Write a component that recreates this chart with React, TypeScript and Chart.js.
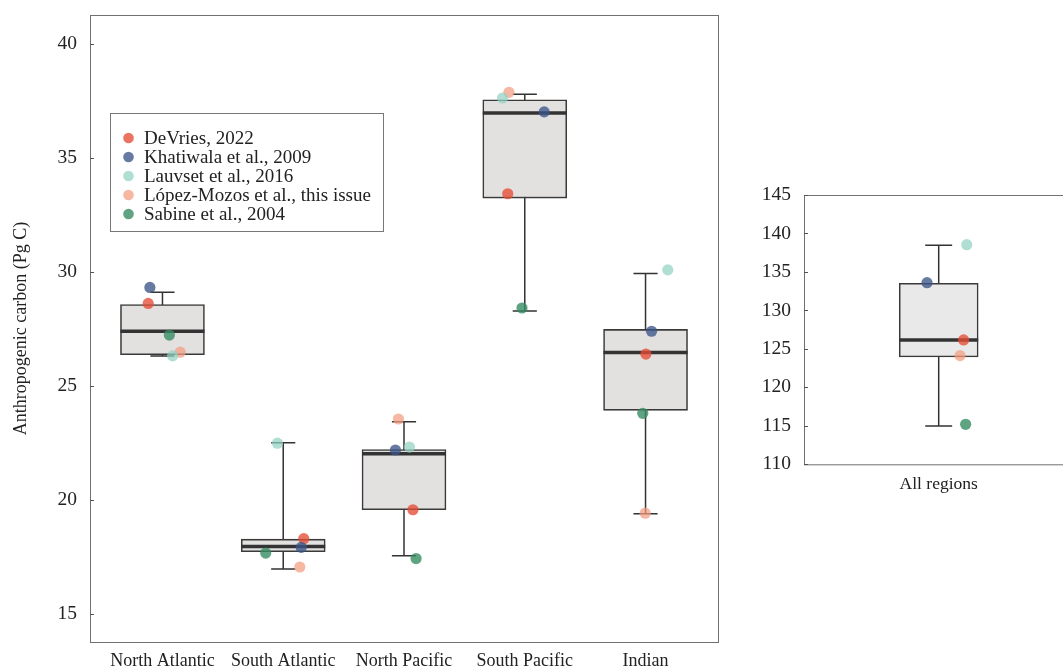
import React, { useEffect, useRef } from 'react';
import { Chart, registerables } from 'chart.js';

Chart.register(...registerables);

// ---------- data ----------
const regions = ['North Atlantic', 'South Atlantic', 'North Pacific', 'South Pacific', 'Indian'];
const regionYTicks = [15, 20, 25, 30, 35, 40];
const regionQ1 = [26.37, 17.73, 19.57, 33.24, 23.93];
const regionMedian = [27.4, 17.96, 22.03, 36.97, 26.47];
const regionQ3 = [28.57, 18.28, 22.21, 37.55, 27.48];
const regionWhiskerLow = [26.31, 16.97, 17.55, 28.29, 19.4];
const regionWhiskerHigh = [29.11, 22.51, 23.43, 37.79, 29.93];

const sources = [
  'DeVries, 2022',
  'Khatiwala et al., 2009',
  'Lauvset et al., 2016',
  'López-Mozos et al., this issue',
  'Sabine et al., 2004',
];
const sourceColors = [
  'rgba(230,75,53,0.78)',
  'rgba(60,84,136,0.78)',
  'rgba(145,209,194,0.72)',
  'rgba(243,155,127,0.72)',
  'rgba(55,140,100,0.8)',
];
const sourceOrder = [5, 4, 2, 3, 1];

// values per source, one per region
const devriesValues = [28.62, 18.3, 19.57, 33.43, 26.4];
const khatiwalaValues = [29.32, 17.92, 22.19, 37.02, 27.4];
const lauvsetValues = [26.32, 22.49, 22.32, 37.63, 30.09];
const lopezValues = [26.48, 17.06, 23.55, 37.88, 19.42];
const sabineValues = [27.23, 17.67, 17.43, 28.42, 23.8];
const regionValues = [devriesValues, khatiwalaValues, lauvsetValues, lopezValues, sabineValues];

// horizontal jitter (category units)
const devriesJitter = [-0.118, 0.17, 0.074, -0.141, 0.003];
const khatiwalaJitter = [-0.104, 0.149, -0.071, 0.161, 0.05];
const lauvsetJitter = [0.084, -0.048, 0.045, -0.184, 0.184];
const lopezJitter = [0.147, 0.137, -0.046, -0.131, -0.003];
const sabineJitter = [0.057, -0.145, 0.1, -0.023, -0.023];
const regionJitter = [devriesJitter, khatiwalaJitter, lauvsetJitter, lopezJitter, sabineJitter];

// all regions panel
const totalLabel = ['All regions'];
const totalYTicks = [110, 115, 120, 125, 130, 135, 140, 145];
const totalQ1 = [123.95];
const totalMedian = [126.16];
const totalQ3 = [133.52];
const totalWhiskerLow = [114.98];
const totalWhiskerHigh = [138.46];
const totalValues = [126.16, 133.6, 138.54, 124.12, 115.2]; // one per source
const totalJitter = [0.111, -0.052, 0.125, 0.095, 0.12];

// ---------- helpers ----------
const FONT = "'Liberation Serif', 'Times New Roman', Times, serif";
const TEXT = '#222222';

const boxExtras = {
  id: 'boxExtras',
  beforeDatasetsDraw(chart: any, _args: any, opts: any) {
    const { ctx } = chart;
    const xs = chart.scales.x;
    const ys = chart.scales.y;
    ctx.save();
    ctx.strokeStyle = '#333333';
    ctx.lineWidth = 1.5;
    opts.lo.forEach((lo: number, i: number) => {
      const cx = xs.getPixelForValue(i);
      const hw = (xs.getPixelForValue(i + opts.cap / 2) - xs.getPixelForValue(i - opts.cap / 2)) / 2;
      const yLo = ys.getPixelForValue(lo);
      const yHi = ys.getPixelForValue(opts.hi[i]);
      ctx.beginPath();
      ctx.moveTo(cx, yLo);
      ctx.lineTo(cx, yHi);
      ctx.moveTo(cx - hw, yLo);
      ctx.lineTo(cx + hw, yLo);
      ctx.moveTo(cx - hw, yHi);
      ctx.lineTo(cx + hw, yHi);
      ctx.stroke();
    });
    ctx.restore();
  },
  afterDatasetDraw(chart: any, args: any, opts: any) {
    if (args.meta.type !== 'bar') return;
    const { ctx } = chart;
    const ys = chart.scales.y;
    ctx.save();
    ctx.strokeStyle = '#333333';
    ctx.lineWidth = 3.5;
    args.meta.data.forEach((el: any, i: number) => {
      const y = ys.getPixelForValue(opts.median[i]);
      ctx.beginPath();
      ctx.moveTo(el.x - el.width / 2, y);
      ctx.lineTo(el.x + el.width / 2, y);
      ctx.stroke();
    });
    ctx.restore();
  },
  afterDraw(chart: any, _args: any, opts: any) {
    const { ctx, chartArea: a } = chart;
    const ys = chart.scales.y;
    ctx.save();
    ctx.strokeStyle = '#707070';
    ctx.lineWidth = 1;
    ctx.strokeRect(Math.round(a.left) + 0.5, Math.round(a.top) + 0.5, a.right - a.left, a.bottom - a.top);
    ctx.strokeStyle = '#555555';
    opts.yTicks.forEach((v: number) => {
      const y = Math.round(ys.getPixelForValue(v)) + 0.5;
      ctx.beginPath();
      ctx.moveTo(a.left, y);
      ctx.lineTo(a.left + 4, y);
      ctx.stroke();
    });
    if (opts.legend) {
      const x0 = a.left + 20;
      const y0 = a.top + 98;
      const w = 273;
      const h = 118;
      ctx.fillStyle = '#ffffff';
      ctx.fillRect(x0, y0, w, h);
      ctx.strokeStyle = '#777777';
      ctx.strokeRect(x0 + 0.5, y0 + 0.5, w, h);
      ctx.font = `19px ${FONT}`;
      ctx.textBaseline = 'middle';
      ctx.textAlign = 'left';
      chart.data.datasets.forEach((ds: any) => {
        if (ds.type !== 'scatter') return;
        const k = ds.sourceIndex;
        const ry = y0 + 25 + k * 19;
        ctx.fillStyle = ds.backgroundColor;
        ctx.beginPath();
        ctx.arc(x0 + 18.5, ry, 5.3, 0, Math.PI * 2);
        ctx.fill();
        ctx.fillStyle = TEXT;
        ctx.fillText(ds.label, x0 + 34, ry + 1);
      });
    }
    ctx.restore();
  },
};

function buildConfig(p: {
  labels: string[];
  q1: number[];
  median: number[];
  q3: number[];
  lo: number[];
  hi: number[];
  values: (k: number) => number[];
  jitter: (k: number) => number[];
  yMin: number;
  yMax: number;
  yTicks: number[];
  xMin: number;
  xMax: number;
  cap: number;
  barThickness: number;
  boxFill: string;
  legend: boolean;
  yTitle: string | null;
  yWidth: number;
  xHeight: number;
  padding: any;
  xFont: number;
  xPad: number;
}): any {
  const scatterSets = sources.map((name, k) => ({
    type: 'scatter',
    label: name,
    sourceIndex: k,
    order: sourceOrder[k],
    data: p.values(k).map((v, i) => ({ x: i + p.jitter(k)[i], y: v })),
    backgroundColor: sourceColors[k],
    borderWidth: 0,
    pointRadius: 5.6,
    pointHoverRadius: 5.6,
  }));
  return {
    type: 'bar',
    data: {
      datasets: [
        {
          type: 'bar',
          label: 'box',
          order: 10,
          data: p.q1.map((q, i) => ({ x: i, y: [q, p.q3[i]] })),
          backgroundColor: p.boxFill,
          borderColor: '#3a3a3a',
          borderWidth: 1.6,
          borderSkipped: false,
          barThickness: p.barThickness,
        },
        ...scatterSets,
      ],
    },
    options: {
      responsive: false,
      animation: false,
      events: [],
      layout: { padding: p.padding },
      plugins: {
        legend: { display: false },
        tooltip: { enabled: false },
        boxExtras: {
          q1: p.q1,
          median: p.median,
          q3: p.q3,
          lo: p.lo,
          hi: p.hi,
          cap: p.cap,
          yTicks: p.yTicks,
          legend: p.legend,
        },
      },
      scales: {
        x: {
          type: 'linear',
          offset: false,
          min: p.xMin,
          max: p.xMax,
          grid: { display: false, drawTicks: false },
          border: { display: false },
          afterBuildTicks: (s: any) => {
            s.ticks = p.labels.map((_, i) => ({ value: i }));
          },
          afterFit: (s: any) => {
            s.height = p.xHeight;
            s.paddingLeft = 0;
            s.paddingRight = 0;
          },
          ticks: {
            autoSkip: false,
            maxRotation: 0,
            padding: p.xPad,
            color: TEXT,
            font: { family: FONT, size: p.xFont },
            callback: (v: any) => p.labels[Math.round(v)] ?? '',
          },
        },
        y: {
          type: 'linear',
          min: p.yMin,
          max: p.yMax,
          grid: { display: false, drawTicks: false },
          border: { display: false },
          afterBuildTicks: (s: any) => {
            s.ticks = p.yTicks.map((v) => ({ value: v }));
          },
          afterFit: (s: any) => {
            s.width = p.yWidth;
            s.paddingTop = 0;
            s.paddingBottom = 0;
          },
          ticks: {
            padding: 13,
            color: TEXT,
            font: { family: FONT, size: 19.5 },
            callback: (v: any) => String(v),
          },
          title: p.yTitle
            ? {
                display: true,
                text: p.yTitle,
                color: TEXT,
                font: { family: FONT, size: 18 },
                padding: { top: 10, bottom: 0 },
              }
            : { display: false },
        },
      },
    },
    plugins: [boxExtras],
  };
}

export default function App() {
  const leftRef = useRef<HTMLCanvasElement>(null);
  const rightRef = useRef<HTMLCanvasElement>(null);

  useEffect(() => {
    const left = new Chart(
      leftRef.current as HTMLCanvasElement,
      buildConfig({
        labels: regions,
        q1: regionQ1,
        median: regionMedian,
        q3: regionQ3,
        lo: regionWhiskerLow,
        hi: regionWhiskerHigh,
        values: (k) => regionValues[k],
        jitter: (k) => regionJitter[k],
        yMin: 13.77,
        yMax: 41.27,
        yTicks: regionYTicks,
        xMin: -0.6,
        xMax: 4.6,
        cap: 0.2,
        barThickness: 84,
        boxFill: '#e2e1e0',
        legend: true,
        yTitle: 'Anthropogenic carbon (Pg C)',
        yWidth: 90,
        xHeight: 25,
        padding: { top: 15, right: 22, left: 0, bottom: 0 },
        xFont: 18,
        xPad: 8,
      })
    );
    const right = new Chart(
      rightRef.current as HTMLCanvasElement,
      buildConfig({
        labels: totalLabel,
        q1: totalQ1,
        median: totalMedian,
        q3: totalQ3,
        lo: totalWhiskerLow,
        hi: totalWhiskerHigh,
        values: (k) => [totalValues[k]],
        jitter: (k) => [totalJitter[k]],
        yMin: 110,
        yMax: 145,
        yTicks: totalYTicks,
        xMin: -0.6,
        xMax: 0.6,
        cap: 0.12,
        barThickness: 79,
        boxFill: '#e9e9e9',
        legend: false,
        yTitle: null,
        yWidth: 64,
        xHeight: 202.7,
        padding: { top: 195, right: 6.6, left: 0, bottom: 0 },
        xFont: 17.5,
        xPad: 10,
      })
    );
    return () => {
      left.destroy();
      right.destroy();
    };
  }, []);

  return (
    <div
      style={{
        position: 'fixed',
        left: 0,
        top: 0,
        width: 1063,
        height: 667,
        overflow: 'hidden',
        background: '#ffffff',
      }}
    >
      <div style={{ position: 'absolute', left: 0, top: 0, width: 740, height: 667 }}>
        <canvas ref={leftRef} width={740} height={667} style={{ display: 'block' }} />
      </div>
      <div style={{ position: 'absolute', left: 740, top: 0, width: 340, height: 667 }}>
        <canvas ref={rightRef} width={340} height={667} style={{ display: 'block' }} />
      </div>
    </div>
  );
}
